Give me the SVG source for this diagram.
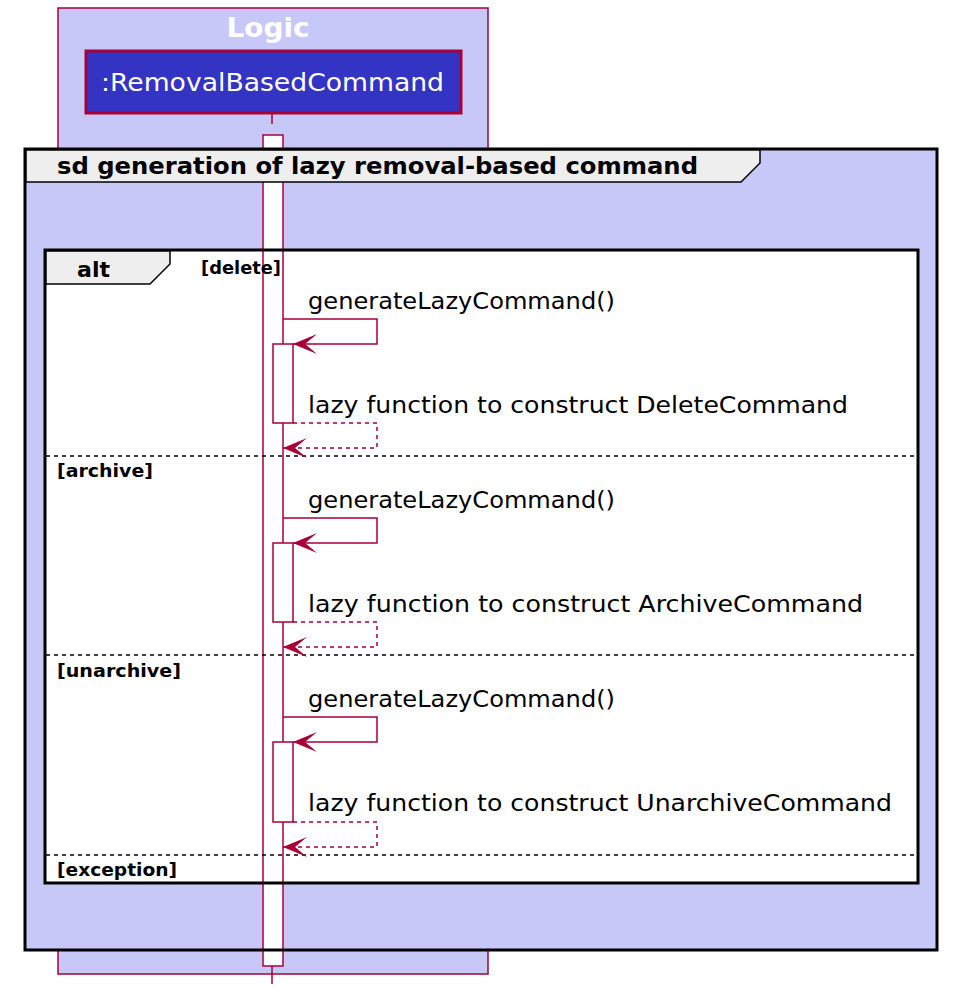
<svg xmlns="http://www.w3.org/2000/svg" width="957" height="1007" viewBox="0 0 957 1007">
<style>
.ln{stroke:#A80036;stroke-width:1.5;fill:none}
.dsh{stroke:#A80036;stroke-width:1.5;fill:none;stroke-dasharray:4,4}
.act{fill:#FFFFFF;stroke:#A80036;stroke-width:1.5}
.msg{font-family:"DejaVu Sans",sans-serif;font-size:23px;fill:#000}
.grd{font-family:"DejaVu Sans",sans-serif;font-size:17.5px;font-weight:bold;fill:#000}
.sep{stroke:#000;stroke-width:1.5;stroke-dasharray:4,4}
</style>
<defs>
<marker id="ah" markerWidth="26" markerHeight="22" refX="24" refY="10" orient="auto" markerUnits="userSpaceOnUse">
<polygon points="24,10 0,0 12,10 0,20" fill="#A80036"/>
</marker>
</defs>
<g id="box-logic">
<rect x="58" y="8" width="430" height="966" fill="#C8C8F8" stroke="#A80036" stroke-width="1.5"/>
<text x="268" y="37" text-anchor="middle" font-family="DejaVu Sans,sans-serif" font-size="27" font-weight="bold" fill="#FFFFFF" textLength="83" lengthAdjust="spacingAndGlyphs">Logic</text>
</g>
<g id="lifeline">
<line x1="272" y1="114" x2="272" y2="124" class="ln"/>
<line x1="272" y1="966" x2="272" y2="984" class="ln"/>
</g>
<g id="participant">
<rect x="86" y="51" width="375" height="62" fill="#3434C4" stroke="#A80036" stroke-width="3"/>
<text x="101" y="91" font-family="DejaVu Sans,sans-serif" font-size="25" fill="#FFFFFF" textLength="343" lengthAdjust="spacingAndGlyphs">:RemovalBasedCommand</text>
</g>
<g id="frame-backgrounds">
<rect x="25" y="149" width="912" height="801" fill="#C8C8F8"/>
<rect x="45" y="250" width="873" height="633" fill="#FFFFFF"/>
</g>
<g id="activation-main">
<rect x="263" y="135" width="20" height="831" class="act"/>
</g>
<g id="frame-sd">
<rect x="25" y="149" width="912" height="801" fill="none" stroke="#000" stroke-width="3"/>
<polygon points="26,150 760,150 760,163 741,182 26,182" fill="#EEEEEE" stroke="#000" stroke-width="1.5"/>
<text x="57" y="174" font-family="DejaVu Sans,sans-serif" font-size="23" font-weight="bold" fill="#000" textLength="641" lengthAdjust="spacingAndGlyphs">sd generation of lazy removal-based command</text>
</g>
<g id="frame-alt">
<rect x="45" y="250" width="873" height="633" fill="none" stroke="#000" stroke-width="3"/>
<polygon points="46,251 170,251 170,264 150,284 46,284" fill="#EEEEEE" stroke="#000" stroke-width="1.5"/>
<text x="77" y="277" font-family="DejaVu Sans,sans-serif" font-size="22" font-weight="bold" fill="#000" textLength="33" lengthAdjust="spacingAndGlyphs">alt</text>
<text x="201" y="274" class="grd" textLength="80" lengthAdjust="spacingAndGlyphs">[delete]</text>
<line x1="46" y1="456" x2="917" y2="456" class="sep"/>
<text x="57" y="477" class="grd" textLength="96" lengthAdjust="spacingAndGlyphs">[archive]</text>
<line x1="46" y1="655" x2="917" y2="655" class="sep"/>
<text x="57" y="677" class="grd" textLength="124" lengthAdjust="spacingAndGlyphs">[unarchive]</text>
<line x1="46" y1="855" x2="917" y2="855" class="sep"/>
<text x="57" y="876" class="grd" textLength="120" lengthAdjust="spacingAndGlyphs">[exception]</text>
</g>
<g id="activations">
<rect x="273" y="344" width="20" height="79" class="act"/>
<rect x="273" y="543" width="20" height="79" class="act"/>
<rect x="273" y="742" width="20" height="80" class="act"/>
</g>
<g id="connectors">
<polyline points="283,319 377,319 377,344 293,344" class="ln" marker-end="url(#ah)"/>
<polyline points="293,423 377,423 377,448 283,448" class="dsh" marker-end="url(#ah)"/>
<polyline points="283,518 377,518 377,543 293,543" class="ln" marker-end="url(#ah)"/>
<polyline points="293,622 377,622 377,647 283,647" class="dsh" marker-end="url(#ah)"/>
<polyline points="283,717 377,717 377,742 293,742" class="ln" marker-end="url(#ah)"/>
<polyline points="293,822 377,822 377,847 283,847" class="dsh" marker-end="url(#ah)"/>
</g>
<g id="labels">
<text x="308" y="309" class="msg" textLength="307" lengthAdjust="spacingAndGlyphs">generateLazyCommand()</text>
<text x="308" y="413" class="msg" textLength="540" lengthAdjust="spacingAndGlyphs">lazy function to construct DeleteCommand</text>
<text x="308" y="508" class="msg" textLength="307" lengthAdjust="spacingAndGlyphs">generateLazyCommand()</text>
<text x="308" y="612" class="msg" textLength="555" lengthAdjust="spacingAndGlyphs">lazy function to construct ArchiveCommand</text>
<text x="308" y="707" class="msg" textLength="307" lengthAdjust="spacingAndGlyphs">generateLazyCommand()</text>
<text x="308" y="811" class="msg" textLength="584" lengthAdjust="spacingAndGlyphs">lazy function to construct UnarchiveCommand</text>
</g>
</svg>
